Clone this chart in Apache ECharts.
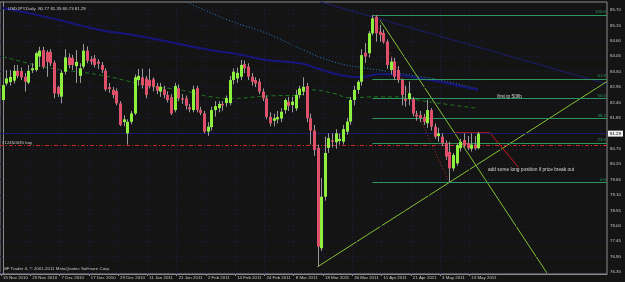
<!DOCTYPE html>
<html><head><meta charset="utf-8">
<script src="https://cdn.jsdelivr.net/npm/echarts@6/dist/echarts.min.js"></script>
<style>html,body{margin:0;padding:0;background:#141414;}#c{width:625px;height:282px;}</style>
</head><body><div id="c"></div>
<script>
// ---- data ----
const dateTicks = ['15 Nov 2010','25 Nov 2010','7 Dec 2010','17 Dec 2010','29 Dec 2010','11 Jan 2011','21 Jan 2011','2 Feb 2011','14 Feb 2011','24 Feb 2011','8 Mar 2011','18 Mar 2011','30 Mar 2011','11 Apr 2011','21 Apr 2011','3 May 2011','13 May 2011'];
const priceTicks = [76.35,76.90,77.45,78.00,78.55,79.10,79.65,80.20,80.75,81.30,81.85,82.40,82.95,83.50,84.05,84.60,85.15,85.70];
const opens = [82.49,83.08,83.13,83.18,83.53,83.52,83.32,83.11,83.55,83.56,84.04,84.27,84.20,84.21,83.82,82.95,82.61,83.50,84.01,83.99,83.70,83.35,83.68,84.25,83.94,83.98,83.86,83.74,83.54,82.95,82.85,82.81,82.37,81.70,81.30,81.71,82.01,83.20,83.30,83.26,83.20,83.23,82.99,82.79,82.87,82.67,82.59,82.13,82.91,82.55,82.55,82.23,82.13,82.91,82.13,82.01,81.36,81.52,82.13,82.20,82.35,82.38,82.38,83.20,83.26,83.32,83.77,83.68,83.32,83.20,83.14,82.79,82.55,81.89,81.75,81.80,81.83,82.13,82.43,82.31,82.19,82.67,82.79,82.99,81.84,81.40,80.78,77.20,79.04,80.78,81.05,80.98,81.03,81.00,81.36,81.72,82.49,82.85,83.14,84.18,84.16,84.87,85.46,84.93,84.88,84.57,83.56,83.86,83.56,83.20,82.52,82.52,82.52,81.97,81.95,81.89,81.66,82.13,81.54,81.20,81.18,80.95,80.64,80.05,80.23,80.77,81.06,80.95,80.75,80.90,80.77];
const highs = [83.10,83.56,83.56,83.74,83.74,83.65,83.45,83.74,83.80,84.21,84.39,84.39,84.27,84.30,83.90,83.00,83.55,84.30,84.15,84.10,84.27,83.80,84.49,84.40,84.05,84.10,83.95,83.85,83.62,83.10,82.95,82.90,82.45,81.95,81.80,82.10,83.40,83.60,83.61,83.35,83.61,83.30,83.10,83.10,83.00,82.80,82.70,83.10,83.05,82.70,82.65,82.35,83.00,83.00,82.25,82.10,81.70,82.25,82.45,82.45,82.45,82.65,83.35,83.62,83.65,83.92,83.90,83.80,83.45,83.30,83.25,82.90,82.65,82.05,82.00,82.10,82.20,82.55,82.60,82.60,82.85,83.00,83.30,83.10,82.00,81.60,80.90,79.70,81.18,81.30,81.30,81.45,81.30,81.60,81.85,82.60,83.00,83.20,84.30,84.52,84.95,85.52,85.52,85.17,85.00,84.65,84.00,84.00,83.70,83.25,83.00,83.15,82.60,82.10,82.10,82.00,82.50,82.20,81.65,81.50,81.30,81.05,81.00,80.60,80.95,81.10,81.30,81.20,81.30,81.20,81.35];
const lows = [82.42,83.00,83.00,83.08,83.27,83.20,82.79,83.05,83.45,83.50,83.68,83.60,83.32,83.70,82.55,82.60,82.37,83.40,83.62,83.55,83.10,83.10,83.60,83.80,83.75,83.65,83.60,83.45,82.80,82.75,82.55,82.30,81.56,81.55,80.90,81.62,81.95,83.00,82.90,82.55,82.90,82.80,82.70,82.60,82.55,82.40,81.95,82.05,82.45,82.35,82.15,82.05,82.05,82.05,81.95,81.30,81.21,81.40,81.90,82.05,82.10,82.25,82.30,83.05,83.10,83.20,83.45,83.20,83.00,82.95,82.70,82.45,81.80,81.55,81.55,81.65,81.70,82.00,82.10,82.05,82.10,82.55,82.65,81.70,80.90,80.50,76.54,77.10,78.90,80.60,80.80,80.75,80.90,80.90,81.25,81.60,82.30,82.70,83.00,83.81,84.00,84.80,84.57,84.57,84.50,83.60,83.40,83.20,83.10,82.30,82.25,82.30,81.90,81.75,81.70,81.60,81.50,81.40,81.10,81.00,80.85,80.35,79.55,79.95,80.15,80.65,80.80,80.70,80.65,80.70,80.73];
const closes = [83.02,83.26,83.31,83.53,83.35,83.30,83.14,83.53,83.62,84.16,84.25,83.68,83.85,83.80,82.73,82.70,83.46,84.01,83.74,83.74,83.85,83.62,84.25,83.89,83.86,83.74,83.78,83.56,82.87,82.88,82.67,82.37,81.60,81.80,81.71,82.01,83.30,83.35,83.02,82.67,82.99,82.96,82.82,82.96,82.67,82.49,82.01,82.99,82.55,82.50,82.28,82.16,82.87,82.13,82.03,81.36,81.54,82.13,82.27,82.35,82.30,82.56,83.20,83.50,83.46,83.74,83.62,83.32,83.14,83.08,82.79,82.55,81.89,81.66,81.84,81.88,82.07,82.49,82.28,82.43,82.67,82.90,82.96,81.84,81.40,80.71,77.26,79.04,80.60,81.13,81.00,81.30,81.10,81.45,81.72,82.49,82.85,83.14,84.09,84.04,84.87,85.40,84.87,84.81,84.57,83.74,83.86,83.32,83.20,82.67,82.46,82.73,82.01,81.90,81.85,81.71,82.13,81.54,81.18,81.30,80.95,80.47,80.05,80.53,80.88,81.00,80.88,80.77,80.90,80.77,81.29];
// moving averages (bar index, price)
const maNavyBars = [0,12.9,26.6,35.6,42.9,56.6,62.9,72.1,81.2,85.8,92.2,97.6,103.1,108.5,114.0,119.5,124.9,129.9];
const maNavyVals = [85.77,85.42,84.99,84.81,84.63,84.27,84.16,83.92,83.80,83.62,83.38,83.30,83.42,83.38,83.26,83.14,82.99,82.85];
const maBlueBars = [49.8,53.9,62.9,72.1,81.2,90.2,99.4,104.9,111.3,119.5,129.9];
const maBlueVals = [86.02,85.77,85.28,84.87,84.33,83.86,83.62,83.52,83.38,83.20,82.88];
const maGreenBars = [0,12.9,26.6,40.2,48.4,56.6,62.9,71.9,81.2,83.9,90.2,94.9,101.7,108.5,112.6,119.5,129.9];
const maGreenVals = [84.04,83.63,83.38,82.99,82.85,82.61,82.55,82.63,82.67,82.85,82.73,82.57,82.60,82.60,82.51,82.37,82.19];
// drawn objects
const fibLevels = [100.0, 61.8, 50.0, 38.2, 23.6, 0.0];
const fibHigh = 85.52, fibLow = 79.55, fibHighBar = 101, fibLowBar = 122;
const orderPrice = 80.88, bidPrice = 81.29;
const trendUpBars = [86, 165.1], trendUpVals = [76.54, 83.15];
const trendDownBars = [103.1, 148.7], trendDownVals = [85.34, 76.32];
const trendNavyBars = [86.7, 165.1], trendNavyVals = [85.99, 83.06];
const redPathBars = [123.6, 133.1, 140.9], redPathVals = [81.32, 81.32, 80.09];
const noteTp = {bar: 135.1, val: 82.61, text: 'first tp 50fib'};
const noteAdd = {bar: 132.6, val: 79.99, text: 'add some long position if price break out'};

// ---- chart ----
const FONT = 'Liberation Sans, Arial, sans-serif';
const FS = 4.4;
const xMin = -0.773, xMax = 165.12;
const tickIdx = dateTicks.map((d, k) => k * 8 - 0.5);
const candles = opens.map((o, i) => [i, o, closes[i], lows[i], highs[i]]);
const pairs = (bs, vs) => bs.map((b, k) => [b, vs[k]]);
const fibColor = '#2e9460';
const fibLines = fibLevels.map(l => {
  const v = fibLow + (fibHigh - fibLow) * l / 100;
  return [{name: l.toFixed(1), coord: [fibHighBar, v]}, {coord: [xMax, v]}];
});

const chart = echarts.init(document.getElementById('c'), null, {renderer: 'canvas'});
chart.setOption({
  animation: false,
  backgroundColor: '#141414',
  title: {text: 'USDJPY,Daily  80.77 81.35 80.73 81.29', left: 3, top: 2,
    textStyle: {fontSize: FS, color: '#d0d0d0', fontWeight: 'normal', fontFamily: FONT}},
  graphic: [{type: 'text', left: 3, top: 267, style: {text: 'MF Trader 4, \u00a9 2001-2011 MetaQuotes Software Corp.', fill: '#c8c8c8', font: FS + 'px ' + FONT}}],
  grid: {left: 0, right: 18, top: 2, bottom: 8, show: true, borderColor: '#8a8a8a', borderWidth: 1, outerBoundsMode: 'none'},
  xAxis: {type: 'value', min: xMin, max: xMax,
    axisLine: {show: true, lineStyle: {color: '#8a8a8a'}},
    axisTick: {show: true, customValues: tickIdx, length: 2, lineStyle: {color: '#8a8a8a'}},
    axisLabel: {customValues: tickIdx, formatter: v => dateTicks[Math.round((v + 0.5) / 8)] || '',
      align: 'left', margin: 2, fontSize: FS, color: '#c8c8c8', fontFamily: FONT, padding: [0, 0, 0, 2]},
    splitLine: {show: false}},
  yAxis: {type: 'value', position: 'right', min: 76.282, max: 85.986, scale: true,
    axisLine: {show: true, lineStyle: {color: '#8a8a8a'}},
    axisTick: {show: true, customValues: priceTicks, length: 2, lineStyle: {color: '#8a8a8a'}},
    axisLabel: {customValues: priceTicks, formatter: v => v.toFixed(2), margin: 3, fontSize: FS, color: '#c8c8c8', fontFamily: FONT},
    splitLine: {show: false}},
  series: [
    {type: 'line', name: 'grid', data: [[0, 80]], symbol: 'none', lineStyle: {opacity: 0}, z: 1, silent: true,
      markLine: {silent: true, symbol: ['none', 'none'], label: {show: false},
        lineStyle: {color: '#1c1c4c', type: [1, 3], width: 1},
        data: tickIdx.map(v => ({xAxis: v})).concat(priceTicks.map(v => ({yAxis: v})))}},
    {type: 'line', name: 'marks', data: [[0, 80]], symbol: 'none', lineStyle: {opacity: 0}, z: 2, silent: true,
      markLine: {silent: true, symbol: ['none', 'none'],
        data: [
          {yAxis: bidPrice, lineStyle: {color: '#1c1c6e', type: 'solid', width: 1},
            label: {show: true, position: 'end', formatter: bidPrice.toFixed(2), distance: 1, backgroundColor: '#f0f0f0', color: '#000', fontSize: FS, fontFamily: FONT, padding: [1, 2, 1, 2]}},
          {yAxis: orderPrice, lineStyle: {color: '#c42a2a', type: [4, 2, 1, 2], width: 1},
            label: {show: true, position: 'insideStartTop', formatter: '#12450035 buy', distance: [2, 0], color: '#c8c8c8', fontSize: FS, fontFamily: FONT}}
        ].concat(fibLines.map(p => [Object.assign({}, p[0], {lineStyle: {color: fibColor, type: 'solid', width: 1},
            label: {show: true, position: 'insideEndTop', formatter: '{b}', distance: 1, color: fibColor, fontSize: FS, fontFamily: FONT}}), p[1]]))}},
    {type: 'line', name: 'ma-green', data: pairs(maGreenBars, maGreenVals), symbol: 'none', smooth: true, z: 3,
      lineStyle: {color: '#1f7a1f', width: 1, type: [4, 3]}},
    {type: 'line', name: 'ma-blue', data: pairs(maBlueBars, maBlueVals), symbol: 'none', smooth: true, z: 3,
      lineStyle: {color: '#2a7fc0', width: 1, type: [1, 2]}},
    {type: 'line', name: 'ma-navy', data: pairs(maNavyBars, maNavyVals), symbol: 'none', smooth: true, z: 3,
      lineStyle: {color: '#16167e', width: 2}},
    {type: 'line', name: 'trend-navy', data: pairs(trendNavyBars, trendNavyVals), symbol: 'none', z: 3,
      lineStyle: {color: '#1c1c70', width: 1}},
    {type: 'line', name: 'trend-up', data: pairs(trendUpBars, trendUpVals), symbol: 'none', z: 4,
      lineStyle: {color: '#86c233', width: 1}},
    {type: 'line', name: 'trend-down', data: pairs(trendDownBars, trendDownVals), symbol: 'none', z: 4,
      lineStyle: {color: '#86c233', width: 1}},
    {type: 'line', name: 'fib-diag', data: [[fibHighBar, fibHigh], [fibLowBar, fibLow]], symbol: 'none', z: 4,
      lineStyle: {color: '#c02a2a', width: 1, type: [1, 2]}},
    {type: 'line', name: 'red-path', data: pairs(redPathBars, redPathVals), symbol: 'none', z: 4,
      lineStyle: {color: '#d01818', width: 1},
      markPoint: {symbol: 'circle', symbolSize: 0, silent: true,
        data: [noteTp, noteAdd].map(n => ({coord: [n.bar, n.val], label: {show: true, position: 'right', distance: 0, formatter: n.text, color: '#d8d8d8', fontSize: FS + 0.4, fontFamily: FONT}}))}},
    {type: 'custom', name: 'candles', data: candles, z: 5, clip: true,
      renderItem: (params, api) => {
        const i = api.value(0), o = api.value(1), c = api.value(2), l = api.value(3), h = api.value(4);
        const pO = api.coord([i, o]), pC = api.coord([i, c]), pL = api.coord([i, l]), pH = api.coord([i, h]);
        const x = Math.round(pO[0]);
        const top = Math.min(pO[1], pC[1]), bot = Math.max(pO[1], pC[1]);
        const up = c >= o;
        return {type: 'group', children: [
          {type: 'line', shape: {x1: x + 0.5, y1: pH[1], x2: x + 0.5, y2: pL[1]}, style: {stroke: '#9a9a9a', lineWidth: 1}},
          {type: 'rect', shape: {x: x - 1, y: top, width: 3, height: Math.max(bot - top, 1)}, style: {fill: up ? '#8cf03c' : '#e0506a'}}
        ]};
      }}
  ]
});
</script></body></html>
